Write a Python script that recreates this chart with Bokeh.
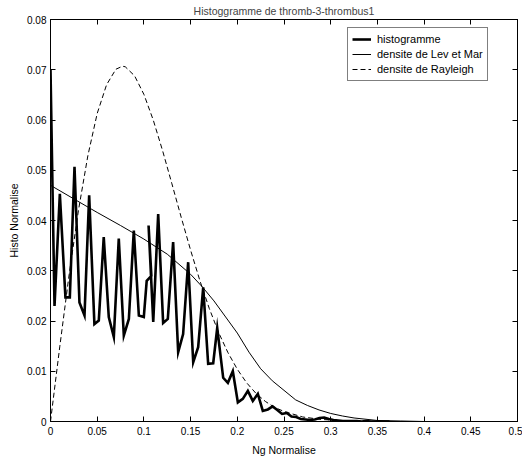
from bokeh.plotting import figure
from bokeh.models import (LinearAxis, FixedTicker, Legend, LegendItem,
                          CustomJSTickFormatter, Range1d)
from bokeh.embed import file_html
from bokeh.resources import INLINE

# ---------------- data ----------------
title_text = "Histoggramme de thromb-3-thrombus1"
x_label = "Ng Normalise"
y_label = "Histo Normalise"

x_ticks = [0.0, 0.05, 0.1, 0.15, 0.2, 0.25, 0.3, 0.35, 0.4, 0.45, 0.5]
x_tick_labels = ["0", "0.05", "0.1", "0.15", "0.2", "0.25", "0.3", "0.35", "0.4", "0.45", "0.5"]
y_ticks = [0.0, 0.01, 0.02, 0.03, 0.04, 0.05, 0.06, 0.07, 0.08]
y_tick_labels = ["0", "0.01", "0.02", "0.03", "0.04", "0.05", "0.06", "0.07", "0.08"]

hist_x = [0.0, 0.0043, 0.0100, 0.0160, 0.0207, 0.0257, 0.0310, 0.0364, 0.0414, 0.0470,
          0.0517, 0.0570, 0.0624, 0.0678, 0.0731, 0.0785, 0.0839, 0.0892, 0.0946, 0.0999,
          0.1030, 0.1080, 0.1050, 0.1100, 0.1153, 0.1206, 0.1256, 0.1313, 0.1367, 0.1420,
          0.1474, 0.1528, 0.1581, 0.1635, 0.1688, 0.1742, 0.1785, 0.1849, 0.1899, 0.1952,
          0.2006, 0.2059, 0.2113, 0.2166, 0.2220, 0.2273, 0.2327, 0.2378, 0.2428, 0.2479,
          0.2530, 0.2580, 0.2630, 0.2680, 0.2730, 0.2780, 0.2830, 0.2880, 0.2930, 0.2980,
          0.3030, 0.3080, 0.3130, 0.3180, 0.3230, 0.3280, 0.3330, 0.3380, 0.3430, 0.3480,
          0.3530, 0.3580, 0.3630]
hist_y = [0.0700, 0.0230, 0.0453, 0.0247, 0.0247, 0.0507, 0.0237, 0.0211, 0.0450, 0.0194,
          0.0201, 0.0367, 0.0208, 0.0168, 0.0364, 0.0171, 0.0204, 0.0380, 0.0211, 0.0208,
          0.0280, 0.0290, 0.0390, 0.0198, 0.0413, 0.0196, 0.0204, 0.0357, 0.0138, 0.0174,
          0.0317, 0.0118, 0.0148, 0.0267, 0.0115, 0.0116, 0.0186, 0.0087, 0.0077, 0.0100,
          0.0038, 0.0045, 0.0061, 0.0041, 0.0055, 0.0021, 0.0024, 0.0030, 0.0023, 0.0015,
          0.0017, 0.0010, 0.0009, 0.0005, 0.0004, 0.0003, 0.0004, 0.0007, 0.0008, 0.0005,
          0.0003, 0.0002, 0.0001, 0.0001, 0.0001, 0.0001, 0.0000, 0.0001, 0.0000, 0.0000,
          0.0000, 0.0000, 0.0000]

lev_x = [0.0, 0.025, 0.05, 0.075, 0.1, 0.125, 0.15, 0.1625, 0.175, 0.1875, 0.2, 0.2125,
         0.225, 0.2375, 0.25, 0.2625, 0.275, 0.2875, 0.3, 0.3125, 0.325, 0.35, 0.375, 0.4,
         0.45, 0.5]
lev_y = [0.0470, 0.0443, 0.0416, 0.0390, 0.0363, 0.0333, 0.0293, 0.0268, 0.0240, 0.0208,
         0.0176, 0.0138, 0.0105, 0.0081, 0.0062, 0.0043, 0.0032, 0.0023, 0.0016, 0.0011,
         0.0007, 0.0002, 0.0001, 0.0, 0.0, 0.0]

ray_x = [0.0, 0.005, 0.01, 0.02, 0.03, 0.04, 0.05, 0.06, 0.07, 0.077, 0.08, 0.09, 0.1,
         0.11, 0.12, 0.13, 0.14, 0.15, 0.16, 0.17, 0.18, 0.19, 0.2, 0.21, 0.22, 0.23, 0.24,
         0.25, 0.27, 0.29, 0.32, 0.35, 0.4, 0.5]
ray_y = [0.0, 0.0075, 0.0150, 0.0293, 0.0421, 0.0529, 0.0613, 0.0670, 0.0701, 0.0707,
         0.0706, 0.0688, 0.0651, 0.0600, 0.0539, 0.0473, 0.0406, 0.0341, 0.0280, 0.0225,
         0.0177, 0.0137, 0.0104, 0.0077, 0.0056, 0.0040, 0.0028, 0.0020, 0.0009, 0.0004,
         0.0001, 0.0, 0.0, 0.0]

legend_labels = ["histogramme", "densite de Lev et Mar", "densite de Rayleigh"]

# ---------------- figure ----------------
FONT = "Liberation Sans"

p = figure(frame_width=467, frame_height=402,
           x_range=Range1d(x_ticks[0], x_ticks[-1]),
           y_range=Range1d(y_ticks[0], y_ticks[-1]),
           output_backend="svg", toolbar_location=None,
           min_border_left=50, min_border_right=5, min_border_top=0, min_border_bottom=0,
           title=title_text, background_fill_color="white", border_fill_color="white")

p.title.align = "center"
p.title.text_font = FONT
p.title.text_font_size = "10.5px"
p.title.text_font_style = "normal"
p.title.standoff = 5
p.title.offset = 0

p.xgrid.visible = False
p.ygrid.visible = False
p.outline_line_color = "black"
p.outline_line_width = 1


def style_axis(ax, ticks, labels, show_labels):
    ax.ticker = FixedTicker(ticks=ticks)
    ax.major_tick_in = 5
    ax.major_tick_out = 0
    ax.minor_tick_in = 0
    ax.minor_tick_out = 0
    ax.axis_line_color = "black"
    ax.major_tick_line_color = "black"
    ax.major_label_text_font = FONT
    ax.major_label_text_font_size = "10px"
    ax.major_label_text_color = "black"
    ax.axis_label_text_font = FONT
    ax.axis_label_text_font_size = "10.5px"
    ax.axis_label_text_font_style = "normal"
    ax.axis_label_text_color = "black"
    if show_labels:
        ax.major_label_overrides = {t: l for t, l in zip(ticks, labels)}
    else:
        ax.formatter = CustomJSTickFormatter(code="return ''")
        ax.major_label_standoff = 0


xa = p.xaxis[0]
ya = p.yaxis[0]
style_axis(xa, x_ticks, x_tick_labels, True)
style_axis(ya, y_ticks, y_tick_labels, True)
xa.axis_label = x_label
ya.axis_label = y_label
xa.major_label_standoff = 5
xa.axis_label_standoff = 6
ya.major_label_standoff = 4
ya.axis_label_standoff = 4

top_ax = LinearAxis()
right_ax = LinearAxis()
style_axis(top_ax, x_ticks, x_tick_labels, False)
style_axis(right_ax, y_ticks, y_tick_labels, False)
p.add_layout(top_ax, "above")
p.add_layout(right_ax, "right")

# ---------------- glyphs ----------------
r_hist = p.line(hist_x, hist_y, line_color="black", line_width=2.6, line_join="miter")
r_lev = p.line(lev_x, lev_y, line_color="black", line_width=1)
r_ray = p.line(ray_x, ray_y, line_color="black", line_width=1, line_dash="5 3")

legend = Legend(items=[LegendItem(label=legend_labels[0], renderers=[r_hist]),
                       LegendItem(label=legend_labels[1], renderers=[r_lev]),
                       LegendItem(label=legend_labels[2], renderers=[r_ray])],
                location=(297, 340))
legend.border_line_color = "black"
legend.border_line_width = 1
legend.background_fill_color = "white"
legend.background_fill_alpha = 1
legend.label_text_font = FONT
legend.label_text_font_size = "11px"
legend.label_text_color = "black"
legend.glyph_width = 19
legend.glyph_height = 12
legend.label_standoff = 6
legend.label_height = 14
legend.spacing = 1
legend.padding = 4
legend.margin = 0
p.add_layout(legend)

open("out.html", "w").write(file_html(p, INLINE))
